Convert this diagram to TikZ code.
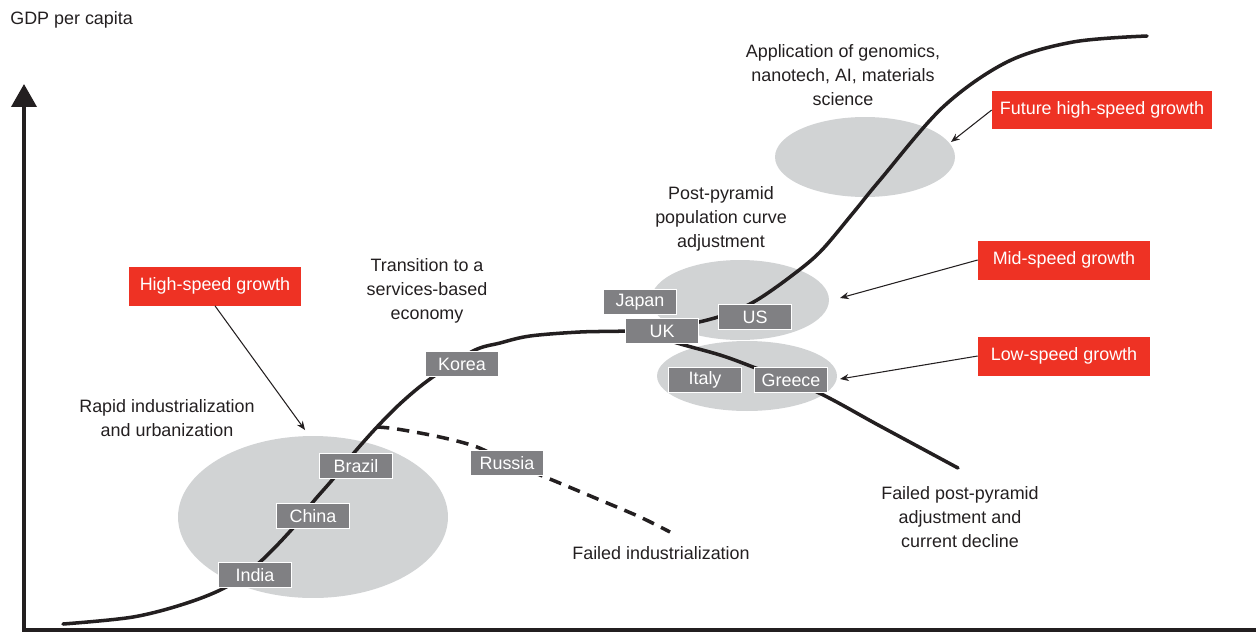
\documentclass[tikz,border=0pt]{standalone}
\usepackage{fontspec}
\setmainfont{Liberation Sans}
\usetikzlibrary{arrows.meta, positioning}
\definecolor{gdpblack}{RGB}{35,31,32}
\definecolor{gdpgray}{RGB}{128,128,131}
\definecolor{gdpcloud}{RGB}{209,211,212}
\definecolor{gdpred}{RGB}{238,50,36}
\tikzstyle{country} = [rectangle, draw=white, line width=0.5pt, fill=gdpgray, text=white, minimum width=1.46cm, minimum height=0.5cm, inner sep=0pt, font=\fontsize{10.2}{12}\selectfont]
\tikzstyle{speed} = [rectangle, fill=gdpred, text=white, minimum width=3.44cm, minimum height=0.78cm, inner sep=0pt, font=\fontsize{10.2}{12}\selectfont]
\tikzstyle{note} = [align=center, text=gdpblack, inner sep=0pt, font=\fontsize{10.2}{13.6}\selectfont]
\tikzstyle{axis} = [line width=2.2pt, gdpblack]
\tikzstyle{path} = [line width=2pt, gdpblack, line cap=round]
\tikzstyle{pointer} = [line width=0.6pt, gdpblack, -{Stealth[length=5pt,width=4pt]}]

\begin{document}
\begin{tikzpicture}[x=0.02cm, y=-0.02cm]
\useasboundingbox (0,0) rectangle (1256,632);

% Growth regions
\fill[gdpcloud] (313,517) ellipse [x radius=2.7cm, y radius=1.62cm];
\fill[gdpcloud] (865,157) ellipse [x radius=1.8cm, y radius=0.8cm];
\fill[gdpcloud] (740,300) ellipse [x radius=1.78cm, y radius=0.8cm];
\fill[gdpcloud] (747,376) ellipse [x radius=1.8cm, y radius=0.7cm];

% Axes
\draw[axis, line join=miter, -{Triangle[width=0.5cm, length=0.46cm]}] (1256,630) -- (24,630) -- (24,84);
\node[note, anchor=west] (ylabel) at (10,20) {GDP per capita};

% Development curves
\draw[path] plot[smooth, tension=0.55] coordinates {
  (63,624) (133,617) (187,603) (228,586) (260,562) (293,528) (313,502)
  (333,479) (353,454) (377,427) (402,402) (430,379) (473,351) (500,343)
  (530,336) (580,332) (626,331) (662,328) (699,322) (730,313) (757,300)
  (790,277) (820,252) (853,213) (880,180) (943,107)
  (1007,62) (1073,42) (1147,36)};
\draw[path] plot[smooth, tension=0.55] coordinates {
  (640,331) (677,343) (720,355) (753,367) (817,392) (880,426) (958,468)};
\draw[path, dash pattern=on 7pt off 4.5pt, line cap=butt] plot[smooth, tension=0.55] coordinates {
  (377,427) (397,429) (440,437) (477,447) (507,462) (545,477) (600,500) (640,517) (670,532)};

% Countries
\node[country] (india) at (255,575) {India};
\node[country] (china) at (313,516) {China};
\node[country] (brazil) at (356,466) {Brazil};
\node[country] (russia) at (507,463) {Russia};
\node[country] (korea) at (462,364) {Korea};
\node[country] (japan) at (640,302) {Japan};
\node[country] (us) at (755,317) {US};
\node[country] (uk) at (662,331) {UK};
\node[country] (italy) at (705,380) {Italy};
\node[country] (greece) at (791,380) {Greece};

% Growth speeds
\node[speed] (highspeed) at (215,286) {High-speed growth};
\node[speed, minimum width=4.4cm] (futurespeed) at (1102,110) {Future high-speed growth};
\node[speed] (midspeed) at (1064,260) {Mid-speed growth};
\node[speed] (lowspeed) at (1064,356) {Low-speed growth};

\coordinate (tiphigh) at (305,430);
\coordinate (tipfuture) at (951,142);
\coordinate (tipmid) at (840,298);
\coordinate (tiplow) at (840,379);
\draw[pointer] (highspeed.south) -- (tiphigh);
\draw[pointer] (futurespeed.west) -- (tipfuture);
\draw[pointer] (midspeed.west) -- (tipmid);
\draw[pointer] (lowspeed.west) -- (tiplow);

% Stages
\node[note] (rapid) at (167,418) {Rapid industrialization\\and urbanization};
\node[note] (services) at (427,291) {Transition to a\\services-based\\economy};
\node[note] (postpyramid) at (721,219) {Post-pyramid\\population curve\\adjustment};
\node[note] (genomics) at (843,75) {Application of genomics,\\nanotech, AI, materials\\science};
\node[note] (failedind) at (661,553) {Failed industrialization};
\node[note] (decline) at (960,517) {Failed post-pyramid\\adjustment and\\current decline};
\end{tikzpicture}
\end{document}
